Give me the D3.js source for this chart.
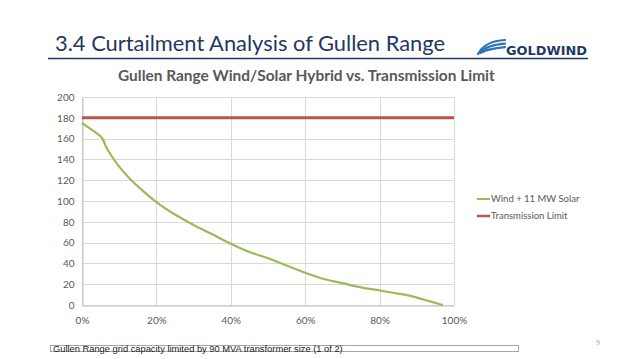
<!DOCTYPE html>
<html>
<head>
<meta charset="utf-8">
<script src="https://cdn.jsdelivr.net/npm/d3@7"></script>
<style>
  body { margin: 0; background: #fff; }
  text { font-family: "Open Sans", "Liberation Sans", sans-serif; }
</style>
</head>
<body>
<script>
// chart data
var pctValues  = [0, 0.02, 0.04, 0.055, 0.065, 0.08, 0.10, 0.13, 0.16, 0.20, 0.25, 0.30, 0.35, 0.40, 0.45, 0.50, 0.55, 0.60, 0.65, 0.70, 0.75, 0.80, 0.85, 0.88, 0.92, 0.95, 0.97];
var mwValues   = [175, 170, 165, 160, 152, 143, 133, 121, 111, 99, 87, 77, 68, 59, 51, 45, 38, 31, 25, 21, 17, 14, 11, 9, 5, 2, 0];
var limitValue = [180, 180];
var limitPct   = [0, 1];
var xTicks = [0, 0.2, 0.4, 0.6, 0.8, 1];
var yTicks = [0, 20, 40, 60, 80, 100, 120, 140, 160, 180, 200];
var seriesNames = ["Wind + 11 MW Solar", "Transmission Limit"];
var seriesColors = ["#9bbb59", "#c0504d"];

var width = 638, height = 359;
var margin = {top: 97, right: 184, bottom: 54, left: 82};

var svg = d3.select("body").append("svg")
  .attr("width", width)
  .attr("height", height);

// squeeze a text to a wanted width
function fitText(sel, w) {
  var len = sel.node().getComputedTextLength();
  var fs = parseFloat(sel.attr("font-size"));
  sel.attr("font-size", fs * w / len);
}

// slide heading
svg.append("text")
  .attr("x", 55).attr("y", 51)
  .attr("font-size", 21.5)
  .attr("fill", "#1f3864")
  .attr("textLength", 390)
  .attr("lengthAdjust", "spacingAndGlyphs")
  .style("font-family", "Lato, sans-serif")
  .text("3.4 Curtailment Analysis of Gullen Range");

svg.append("line")
  .attr("x1", 48).attr("x2", 588)
  .attr("y1", 58.5).attr("y2", 58.5)
  .attr("stroke", "#1f3864")
  .attr("stroke-width", 1.3);

// logo
var logo = svg.append("g").attr("transform", "translate(477,44)");
[0, 4, 8].forEach(function(o, i) {
  logo.append("path")
    .attr("d", "M" + (1 + i * 2) + "," + (10 - o * 0.2) + " Q" + (8 + i) + "," + (-3 + o) + " 28," + (-4 + o * 0.9))
    .attr("fill", "none")
    .attr("stroke", "#2e75b6")
    .attr("stroke-width", 2.2)
    .attr("stroke-linecap", "round");
});
svg.append("text")
  .attr("x", 506).attr("y", 55)
  .attr("font-size", 12)
  .attr("font-weight", "bold")
  .attr("fill", "#1f3864")
  .attr("textLength", 81)
  .attr("lengthAdjust", "spacingAndGlyphs")
  .style("font-family", "'DejaVu Sans', sans-serif")
  .text("GOLDWIND");

// chart title
var ctitle = svg.append("text")
  .attr("x", 118).attr("y", 80.5)
  .attr("font-size", 12.5)
  .attr("font-weight", "bold")
  .attr("fill", "#595959")
  .style("font-family", "Lato, sans-serif")
  .text("Gullen Range Wind/Solar Hybrid vs. Transmission Limit");
fitText(ctitle, 377);

var x = d3.scaleLinear().domain([0, 1]).range([margin.left, width - margin.right]);
var y = d3.scaleLinear().domain([0, 200]).range([height - margin.bottom, margin.top]);

// gridlines
svg.append("g")
  .selectAll("line")
  .data(yTicks)
  .enter().append("line")
  .attr("x1", x(0)).attr("x2", x(1))
  .attr("y1", d => Math.round(y(d)) + 0.5)
  .attr("y2", d => Math.round(y(d)) + 0.5)
  .attr("stroke", "#d9d9d9");

svg.append("g")
  .selectAll("line")
  .data(xTicks)
  .enter().append("line")
  .attr("x1", d => Math.round(x(d)) + 0.5)
  .attr("x2", d => Math.round(x(d)) + 0.5)
  .attr("y1", y(0)).attr("y2", y(200))
  .attr("stroke", "#d9d9d9");

// axes
var xAxis = svg.append("g")
  .attr("transform", "translate(0," + (Math.round(y(0)) + 0.5) + ")")
  .call(d3.axisBottom(x).tickValues(xTicks).tickFormat(d3.format(".0%")).tickSize(0).tickPadding(11));
var yAxis = svg.append("g")
  .attr("transform", "translate(" + (Math.round(x(0)) + 0.5) + ",0)")
  .call(d3.axisLeft(y).tickValues(yTicks).tickSize(0).tickPadding(8));

[xAxis, yAxis].forEach(function(a) {
  a.select(".domain").attr("stroke", "#bfbfbf");
  a.selectAll("text")
    .attr("fill", "#595959")
    .attr("font-size", 10)
    .style("font-family", "Lato, sans-serif");
});

// series lines
var line = d3.line()
  .x(d => x(d[0]))
  .y(d => y(d[1]))
  .curve(d3.curveMonotoneX);

svg.append("path")
  .datum(d3.zip(limitPct, limitValue))
  .attr("d", line)
  .attr("fill", "none")
  .attr("stroke", seriesColors[1])
  .attr("stroke-width", 3);

svg.append("path")
  .datum(d3.zip(pctValues, mwValues))
  .attr("d", line)
  .attr("fill", "none")
  .attr("stroke", seriesColors[0])
  .attr("stroke-width", 2.2);

// legend
var legend = svg.append("g")
  .selectAll("g")
  .data(seriesNames)
  .enter().append("g")
  .attr("transform", (d, i) => "translate(477," + (199 + i * 17) + ")");
legend.append("line")
  .attr("x1", 0).attr("x2", 13)
  .attr("stroke", (d, i) => seriesColors[i])
  .attr("stroke-width", (d, i) => i ? 2.5 : 2);
legend.append("text")
  .attr("x", 14).attr("dy", "0.35em")
  .attr("font-size", 9.5)
  .attr("fill", "#595959")
  .style("font-family", "Lato, sans-serif")
  .text(d => d);

// footer note
svg.append("rect")
  .attr("x", 50.5).attr("y", 345.5)
  .attr("width", 468).attr("height", 6)
  .attr("fill", "#fff")
  .attr("stroke", "#a6a6a6");
var foot = svg.append("text")
  .attr("x", 53).attr("y", 352)
  .attr("font-size", 9)
  .attr("fill", "#222")
  .style("font-family", "'Liberation Sans', Arial, sans-serif")
  .text("Gullen Range grid capacity limited by 90 MVA transformer size (1 of 2)");
fitText(foot, 290);

svg.append("text")
  .attr("x", 598).attr("y", 345)
  .attr("font-size", 7)
  .attr("text-anchor", "middle")
  .attr("fill", "#a6a6a6")
  .text("9");
</script>
</body>
</html>
